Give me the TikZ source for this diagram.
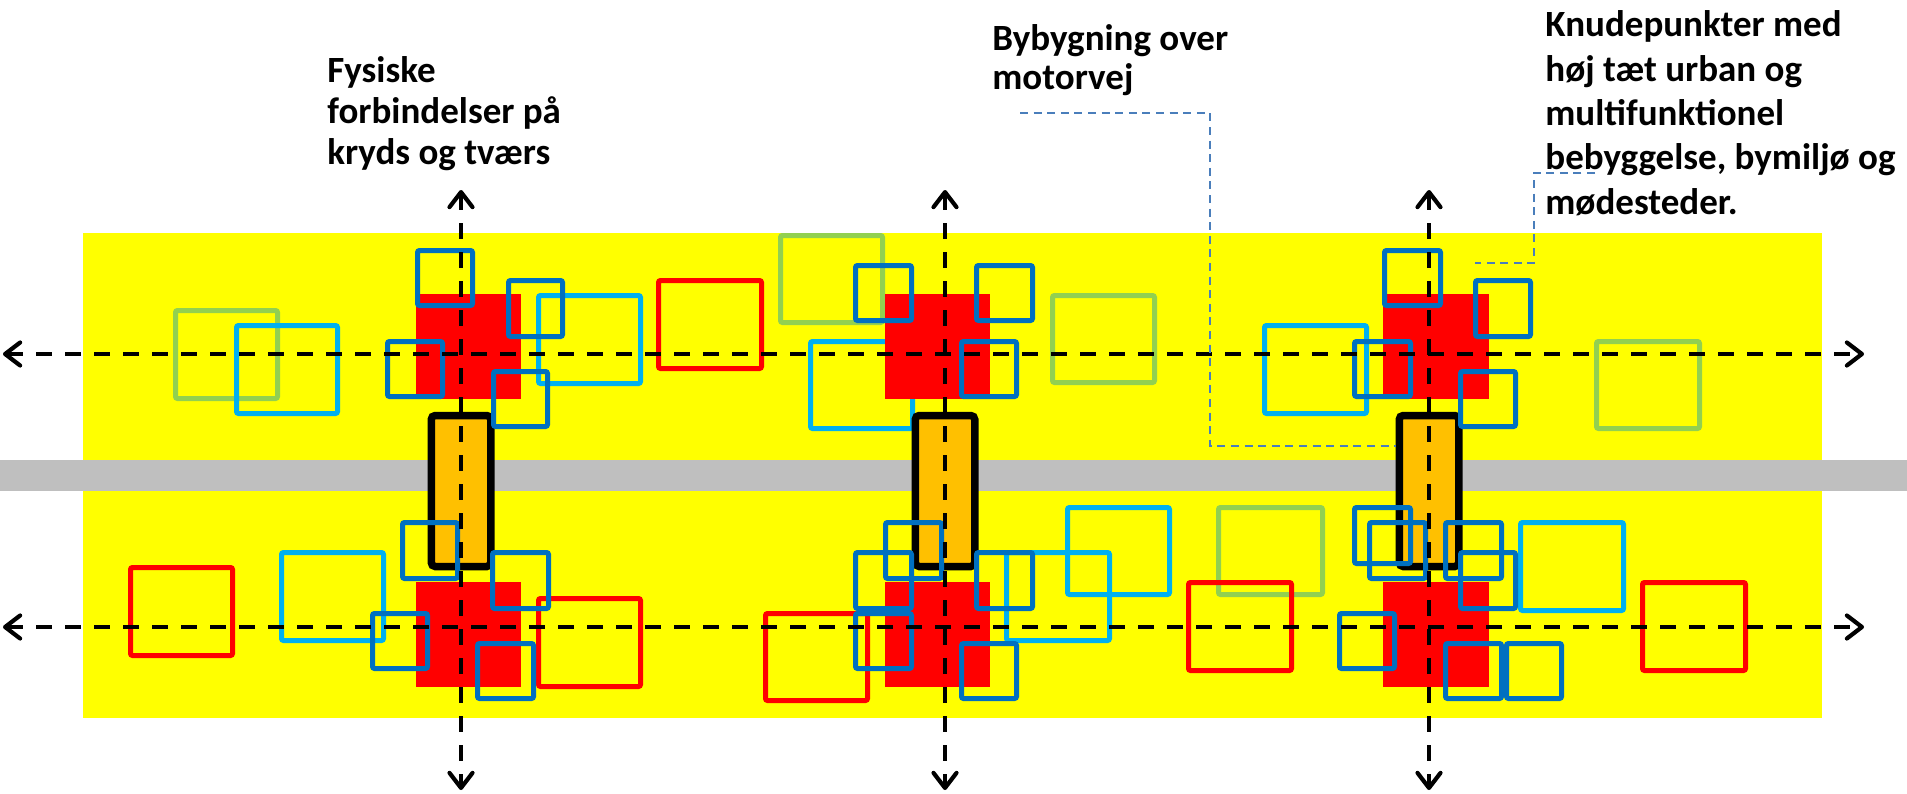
\documentclass[tikz,border=0pt]{standalone}
\usepackage{fontspec}
\setmainfont{Carlito}
\usetikzlibrary{arrows.meta}
\definecolor{yel}{HTML}{FFFF00}
\definecolor{roadgray}{HTML}{BFBFBF}
\definecolor{redfill}{HTML}{FF0000}
\definecolor{bridgeorange}{HTML}{FFC000}
\definecolor{dblue}{HTML}{0070C0}
\definecolor{lblue}{HTML}{00B0F0}
\definecolor{lgreen}{HTML}{92D050}
\definecolor{callblue}{HTML}{4A7EBB}
\newcommand\sqbox[5]{\draw[ob=#1] ({#2+2.5},{#3+2.5}) rectangle ({#4-2.5},{#5-2.5});}
\newcommand\redsq[4]{\fill[redfill] (#1,#2) rectangle (#3,#4);}
\begin{document}
\begin{tikzpicture}[x=0.5pt,y=-0.5pt,
  band/.style={fill=yel,draw=none},
  ob/.style={draw=#1,line width=2.5pt,rounded corners=1pt},
  bridgebox/.style={draw=black,fill=bridgeorange,line width=3.75pt,rounded corners=2pt},
  darrow/.style={draw=black,line width=2.1pt,dash pattern=on 8pt off 6.5pt,
     {Straight Barb[length=7.5pt,width=11.5pt,round]}-{Straight Barb[length=7.5pt,width=11.5pt,round]}},
  callout/.style={draw=callblue,line width=0.9pt,dash pattern=on 4pt off 2.8pt},
  txt/.style={font=\bfseries\fontsize{18.5pt}{20pt}\selectfont,inner sep=0pt,anchor=base west}]
\useasboundingbox (0,0) rectangle (1907,793);
% bands and road
\fill[band] (83,233) rectangle (1822,460);
\fill[band] (83,491) rectangle (1822,718);
\fill[roadgray] (0,460) rectangle (1907,491);
% large outline squares (upper band)
\sqbox{lgreen}{173}{308}{280}{401}
\sqbox{lblue}{234}{323}{340}{416}
\sqbox{lblue}{536}{293}{643}{386}
\sqbox{redfill}{656}{278}{764}{371}
\sqbox{lgreen}{778}{233}{885}{325}
\sqbox{lblue}{808}{339}{915}{431}
\sqbox{lgreen}{1050}{293}{1157}{385}
\sqbox{lblue}{1262}{323}{1369}{416}
\sqbox{lgreen}{1594}{339}{1702}{431}
% large outline squares (lower band)
\sqbox{redfill}{128}{565}{235}{658}
\sqbox{lblue}{279}{550}{386}{643}
\sqbox{redfill}{536}{596}{643}{689}
\sqbox{redfill}{763}{611}{870}{703}
\sqbox{lblue}{1004}{550}{1112}{643}
\sqbox{lblue}{1065}{505}{1172}{597}
\sqbox{lgreen}{1216}{505}{1325}{597}
\sqbox{redfill}{1186}{580}{1294}{673}
\sqbox{lblue}{1518}{520}{1626}{613}
\sqbox{redfill}{1640}{580}{1748}{673}
% red filled nodes
\redsq{416}{294}{521}{399}
\redsq{885}{294}{990}{399}
\redsq{1383}{294}{1489}{399}
\redsq{416}{582}{521}{687}
\redsq{885}{582}{990}{687}
\redsq{1383}{582}{1489}{687}
% bridges over the motorway
\draw[bridgebox] (431.25,415.5) rectangle (490.75,566.5);
\draw[bridgebox] (915.25,415.5) rectangle (974.75,566.5);
\draw[bridgebox] (1399.25,415.5) rectangle (1458.75,566.5);
% small dark blue squares (upper band)
\sqbox{dblue}{415}{248}{475}{308}
\sqbox{dblue}{385}{339}{445}{399}
\sqbox{dblue}{506}{278}{565}{339}
\sqbox{dblue}{491}{369}{550}{429}
\sqbox{dblue}{853}{263}{914}{323}
\sqbox{dblue}{974}{263}{1035}{323}
\sqbox{dblue}{959}{339}{1019}{399}
\sqbox{dblue}{1382}{248}{1443}{308}
\sqbox{dblue}{1473}{278}{1533}{339}
\sqbox{dblue}{1352}{339}{1413}{399}
\sqbox{dblue}{1458}{369}{1518}{429}
% small dark blue squares (lower band)
\sqbox{dblue}{400}{520}{460}{581}
\sqbox{dblue}{490}{550}{551}{611}
\sqbox{dblue}{370}{611}{430}{671}
\sqbox{dblue}{475}{641}{536}{701}
\sqbox{dblue}{883}{520}{944}{581}
\sqbox{dblue}{853}{550}{914}{611}
\sqbox{dblue}{853}{611}{914}{671}
\sqbox{dblue}{974}{550}{1035}{611}
\sqbox{dblue}{959}{641}{1019}{701}
\sqbox{dblue}{1352}{505}{1413}{566}
\sqbox{dblue}{1367}{520}{1428}{581}
\sqbox{dblue}{1443}{520}{1504}{581}
\sqbox{dblue}{1458}{550}{1518}{611}
\sqbox{dblue}{1337}{611}{1397}{671}
\sqbox{dblue}{1443}{641}{1504}{701}
\sqbox{dblue}{1504}{641}{1564}{701}
% dashed connection arrows
\coordinate (hl1) at (3,354);
\coordinate (hr1) at (1864,354);
\coordinate (hl2) at (3,627);
\coordinate (hr2) at (1864,627);
\coordinate (vt1) at (461,190);
\coordinate (vb1) at (461,790);
\coordinate (vt2) at (945,190);
\coordinate (vb2) at (945,790);
\coordinate (vt3) at (1429,190);
\coordinate (vb3) at (1429,790);
\draw[darrow] (hl1) -- (hr1);
\draw[darrow] (hl2) -- (hr2);
\draw[darrow] (vt1) -- (vb1);
\draw[darrow] (vt2) -- (vb2);
\draw[darrow] (vt3) -- (vb3);
% texts
\node[txt] (fys1) at (327,82) {Fysiske};
\node[txt] (fys2) at (327,123) {forbindelser på};
\node[txt] (fys3) at (327,164) {kryds og tværs};
\node[txt] (byb1) at (992,50) {Bybygning over};
\node[txt] (byb2) at (992,89.5) {motorvej};
\node[txt] (knu1) at (1545,36.5) {Knudepunkter med};
\node[txt] (knu2) at (1545,81.5) {høj tæt urban og};
\node[txt] (knu3) at (1545,125) {multifunktionel};
\node[txt] (knu4) at (1545,169.5) {bebyggelse, bymiljø og};
\node[txt] (knu5) at (1545,214) {mødesteder.};
% callout lines
\coordinate (c1a) at (1020,113);
\coordinate (c1b) at (1210,113);
\coordinate (c1c) at (1210,446);
\coordinate (c1d) at (1395.5,446);
\draw[callout] (c1a) -- (c1b) -- (c1c) -- (c1d);
\coordinate (c2a) at (1595,173);
\coordinate (c2b) at (1534,173);
\coordinate (c2c) at (1534,263);
\coordinate (c2d) at (1475,263);
\draw[callout] (c2a) -- (c2b) -- (c2c) -- (c2d);
\end{tikzpicture}
\end{document}
